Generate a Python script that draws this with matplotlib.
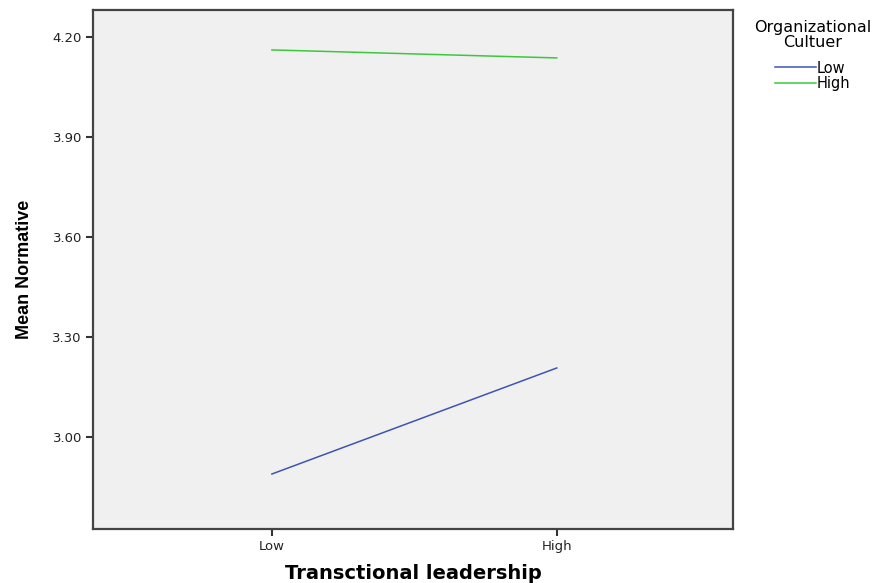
import matplotlib
matplotlib.use("Agg")
import matplotlib.pyplot as plt

# Estimated marginal means
x_labels = ["Low", "High"]
culture_low = [2.889, 3.207]
culture_high = [4.161, 4.137]
y_ticks = [3.00, 3.30, 3.60, 3.90, 4.20]

plt.rcParams["font.family"] = ["DejaVu Sans"]

fig = plt.figure(figsize=(8.8, 5.83), dpi=100)
ax = fig.add_axes([0.1057, 0.0926, 0.727, 0.8904])
ax.set_facecolor("#f0f0f0")

x = list(range(len(x_labels)))
ax.plot(x, culture_low, color="#3d55b0", linewidth=1.1, label="Low")
ax.plot(x, culture_high, color="#3cc83c", linewidth=1.1, label="High")

ax.set_xlim(-0.628, 1.618)
ax.set_ylim(2.724, 4.281)
ax.set_xticks(x)
ax.set_xticklabels(x_labels, fontsize=9.5, color="#222222")
ax.set_yticks(y_ticks)
ax.set_yticklabels([f"{v:.2f}" for v in y_ticks], fontsize=9.5, color="#222222")
ax.tick_params(direction="out", length=5, width=1.5, color="#333333", pad=3)

for side in ax.spines.values():
    side.set_color("#444444")
    side.set_linewidth(1.6)

ax.set_ylabel("Mean Normative", fontsize=13, fontweight="bold", labelpad=14,
              family=["Liberation Sans", "DejaVu Sans"])
ax.set_xlabel("Transctional leadership", fontsize=14, fontweight="bold", labelpad=8)

leg = fig.legend(loc="upper left", bbox_to_anchor=(0.842, 0.988), frameon=False,
                 title="Organizational\nCultuer", fontsize=10.5, title_fontsize=11.5,
                 handlelength=2.75, handletextpad=0.05, labelspacing=0.05)
leg.get_title().set_multialignment("center")
leg.get_title().set_linespacing(1.0)
leg._legend_box.align = "center"
leg._legend_box.sep = 7.5

fig.savefig("out.png", dpi=100)
